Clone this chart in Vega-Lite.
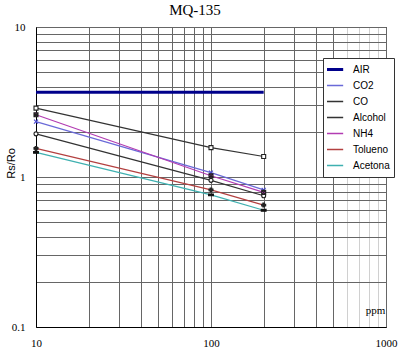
{
  "$schema": "https://vega.github.io/schema/vega-lite/v6.json",
  "width": 350,
  "height": 300,
  "autosize": "none",
  "padding": {"left": 36, "top": 27, "right": 14, "bottom": 29},
  "background": "white",
  "title": {"text": "MQ-135", "font": "Liberation Serif", "fontSize": 15, "fontWeight": "normal", "color": "black", "anchor": "middle", "dx": -16, "offset": 3},
  "config": {"view": {"stroke": "black", "strokeWidth": 1}},
  "data": {"values": [
    {"ppm": 10, "rs": 3.67, "gas": "AIR"},
    {"ppm": 200, "rs": 3.67, "gas": "AIR"},
    {"ppm": 10, "rs": 2.34, "gas": "CO2"},
    {"ppm": 100, "rs": 1.07, "gas": "CO2"},
    {"ppm": 200, "rs": 0.82, "gas": "CO2"},
    {"ppm": 10, "rs": 2.88, "gas": "CO"},
    {"ppm": 100, "rs": 1.57, "gas": "CO"},
    {"ppm": 200, "rs": 1.37, "gas": "CO"},
    {"ppm": 10, "rs": 1.94, "gas": "Alcohol"},
    {"ppm": 100, "rs": 0.95, "gas": "Alcohol"},
    {"ppm": 200, "rs": 0.75, "gas": "Alcohol"},
    {"ppm": 10, "rs": 2.6, "gas": "NH4"},
    {"ppm": 100, "rs": 1.02, "gas": "NH4"},
    {"ppm": 200, "rs": 0.79, "gas": "NH4"},
    {"ppm": 10, "rs": 1.55, "gas": "Tolueno"},
    {"ppm": 100, "rs": 0.82, "gas": "Tolueno"},
    {"ppm": 200, "rs": 0.65, "gas": "Tolueno"},
    {"ppm": 10, "rs": 1.46, "gas": "Acetona"},
    {"ppm": 100, "rs": 0.76, "gas": "Acetona"},
    {"ppm": 200, "rs": 0.6, "gas": "Acetona"}
  ]},
  "encoding": {
    "x": {"field": "ppm", "type": "quantitative",
      "scale": {"type": "log", "domain": [10, 1000]},
      "axis": {"values": [10,20,30,40,50,60,70,80,90,100,200,300,400,500,600,700,800,900,1000],
        "labelExpr": "datum.value == 10 || datum.value == 100 || datum.value == 1000 ? datum.label : ''",
        "format": "d",
        "grid": true, "gridColor": {"condition": {"test": "datum.value > 500 && datum.value < 1000", "value": "#d0d0d0"}, "value": "#666"}, "gridWidth": 1, "ticks": false,
        "domainColor": "black", "labelFont": "Liberation Serif", "labelFontSize": 11, "labelColor": "black",
        "labelPadding": 10, "labelFlush": false, "labelOverlap": false,
        "title": "ppm", "titleFont": "Liberation Serif", "titleFontSize": 11, "titleFontWeight": "normal", "titleColor": "black",
        "titleX": 339, "titleY": -17, "titleAlign": "center", "titleBaseline": "middle"}},
    "y": {"field": "rs", "type": "quantitative",
      "scale": {"type": "log", "domain": [0.1, 10]},
      "axis": {"values": [0.1,0.2,0.3,0.4,0.5,0.6,0.7,0.8,0.9,1,2,3,4,5,6,7,8,9,10],
        "labelExpr": "datum.value == 0.1 ? '0.1' : datum.value == 1 ? '1' : datum.value == 10 ? '10' : ''",
        "grid": true, "gridColor": "#666", "gridWidth": 1, "ticks": false,
        "domainColor": "black", "labelFont": "Liberation Serif", "labelFontSize": 11, "labelColor": "black",
        "labelPadding": 11, "labelFlush": false, "labelOverlap": false,
        "title": "Rs/Ro", "titleFont": "Liberation Sans", "titleFontSize": 11, "titleFontWeight": "normal", "titleColor": "black",
        "titleX": -25, "titleY": 136, "titleAngle": -90, "titleAlign": "center", "titleBaseline": "middle"}},
    "color": {"field": "gas", "type": "nominal",
      "scale": {"domain": ["AIR","CO2","CO","Alcohol","NH4","Tolueno","Acetona"],
                "range": ["#00008b","#6a6ad8","#333333","#333333","#b23cb2","#b34040","#3fb0b0"]},
      "legend": {"orient": "none", "legendX": 287, "legendY": 31, "title": null,
        "symbolType": "stroke", "symbolSize": 500, "clipHeight": 15,
        "labelFont": "Liberation Sans", "labelFontSize": 10, "labelColor": "black",
        "rowPadding": 1, "padding": 4, "strokeColor": "#333", "fillColor": "white",
        "labelOffset": 16,
        "encode": {"symbols": {"update": {"size": {"value": 500}, "strokeWidth": {"signal": "datum.value == 'AIR' ? 3 : 1.3"}}}}}}
  },
  "layer": [
    {
      "transform": [{"filter": "datum.gas == 'AIR'"}],
      "mark": {"type": "line", "strokeWidth": 3}
    },
    {
      "transform": [{"filter": "datum.gas != 'AIR'"}],
      "mark": {"type": "line", "strokeWidth": 1.2}
    },
    {
      "transform": [{"filter": "datum.gas != 'AIR'"}],
      "mark": {"type": "point", "size": 16, "strokeWidth": 1.1, "opacity": 1},
      "encoding": {
        "color": null,
        "shape": {"field": "gas", "type": "nominal",
          "scale": {"domain": ["CO2","CO","Alcohol","NH4","Tolueno","Acetona"],
                    "range": ["M-1,-1L1,1M-1,1L1,-1","square","circle","M-1,-1L1,1M-1,1L1,-1M-1,-1L1,-1L1,1L-1,1Z","cross","M-1.2,-0.45L1.2,-0.45L1.2,0.45L-1.2,0.45Z"]},
          "legend": null},
        "stroke": {"field": "gas", "type": "nominal",
          "scale": {"domain": ["CO2","CO","Alcohol","NH4","Tolueno","Acetona"],
                    "range": ["#4a4ad0","#222222","#222222","#222222","#222222","#111111"]},
          "legend": null},
        "fill": {"field": "gas", "type": "nominal",
          "scale": {"domain": ["CO2","CO","Alcohol","NH4","Tolueno","Acetona"],
                    "range": ["none","white","white","#b23cb2","#222222","#111111"]},
          "legend": null}
      }
    }
  ]
}
